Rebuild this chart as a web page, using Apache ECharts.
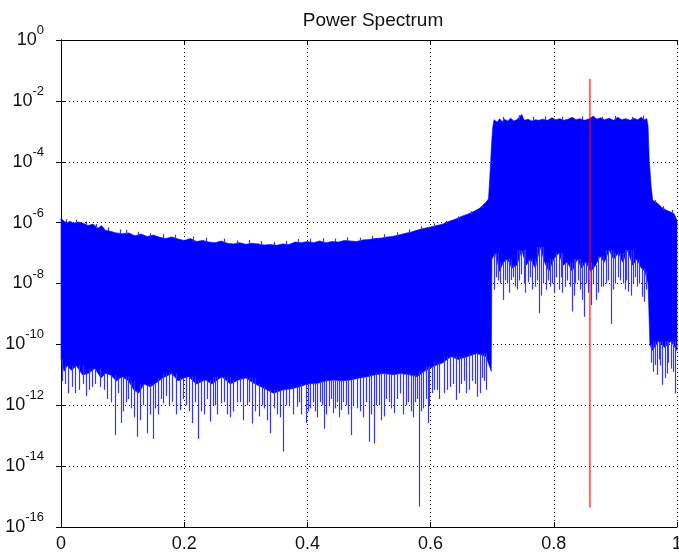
<!DOCTYPE html>
<html><head><meta charset="utf-8">
<script src="https://cdn.jsdelivr.net/npm/echarts@6/dist/echarts.min.js"></script>
<style>html,body{margin:0;padding:0;background:#fff}#c{width:679px;height:552px}</style>
</head><body><div id="c"></div>
<script>
// ---- data ----
const chartTitle = 'Power Spectrum';
const xTickLabels = ['0', '0.2', '0.4', '0.6', '0.8', '1'];

// upper envelope of the spectrum
const topX = [0.000,0.005,0.010,0.015,0.020,0.028,0.036,0.044,0.052,0.060,0.066,0.072,0.080,0.090,0.100,0.110,0.120,0.130,0.140,0.150,0.160,0.170,0.180,0.190,0.200,0.210,0.220,0.230,0.240,0.250,0.260,0.270,0.280,0.290,0.300,0.310,0.320,0.330,0.340,0.350,0.360,0.370,0.380,0.390,0.400,0.410,0.420,0.430,0.440,0.450,0.460,0.470,0.480,0.490,0.500,0.510,0.520,0.530,0.540,0.550,0.560,0.570,0.580,0.590,0.600,0.610,0.620,0.630,0.640,0.650,0.660,0.670,0.680,0.688,0.690,0.694,0.696,0.6976,0.699,0.701,0.703,0.708,0.712,0.716,0.720,0.725,0.730,0.735,0.740,0.748,0.752,0.758,0.764,0.770,0.776,0.782,0.790,0.797,0.803,0.810,0.816,0.823,0.830,0.836,0.842,0.850,0.858,0.864,0.870,0.876,0.882,0.890,0.897,0.904,0.910,0.917,0.924,0.930,0.936,0.942,0.947,0.951,0.953,0.955,0.958,0.9605,0.9686,0.975,0.982,0.988,0.995,1.000];
const topY = [1.4e-6,1.1e-6,1.0e-6,1.1e-6,9.5e-7,1.05e-6,9.5e-7,8.0e-7,9.0e-7,6.5e-7,8.0e-7,5.6e-7,5.2e-7,4.6e-7,4.3e-7,4.6e-7,3.7e-7,4.2e-7,3.5e-7,3.9e-7,3.3e-7,3.0e-7,3.4e-7,2.9e-7,2.6e-7,3.0e-7,2.4e-7,2.6e-7,2.3e-7,2.2e-7,2.5e-7,2.1e-7,2.0e-7,2.2e-7,1.95e-7,2.1e-7,2.0e-7,1.85e-7,1.9e-7,1.8e-7,2.0e-7,1.9e-7,2.3e-7,2.2e-7,2.4e-7,2.2e-7,2.5e-7,2.2e-7,2.4e-7,2.3e-7,2.6e-7,2.5e-7,2.4e-7,2.7e-7,2.8e-7,3.0e-7,3.1e-7,3.4e-7,3.6e-7,4.0e-7,4.5e-7,5.0e-7,5.8e-7,6.5e-7,7.2e-7,8.0e-7,9.0e-7,1.1e-6,1.3e-6,1.6e-6,1.9e-6,2.3e-6,3.0e-6,4.3e-6,4.8e-6,6.0e-6,3.0e-5,1.1e-4,4.0e-4,1.4e-3,2.4e-3,2.0e-3,2.6e-3,2.1e-3,2.5e-3,2.2e-3,2.7e-3,2.2e-3,2.4e-3,3.6e-3,2.3e-3,2.5e-3,2.2e-3,2.4e-3,2.3e-3,2.5e-3,2.3e-3,2.8e-3,2.4e-3,2.6e-3,2.3e-3,2.5e-3,2.9e-3,2.4e-3,2.6e-3,2.3e-3,2.6e-3,3.2e-3,2.5e-3,2.8e-3,2.4e-3,2.7e-3,2.3e-3,2.9e-3,2.4e-3,2.6e-3,2.3e-3,2.7e-3,2.4e-3,2.9e-3,2.4e-3,2.6e-3,1.5e-3,1.1e-4,1.6e-5,5.5e-6,4.3e-6,3.2e-6,2.6e-6,2.3e-6,2.0e-6,1.2e-6];

// small upward teeth on the upper edge
const peakX = [0.008,0.024,0.040,0.057,0.077,0.095,0.105,0.125,0.145,0.165,0.185,0.215,0.235,0.265,0.285,0.305,0.325,0.345,0.365,0.385,0.405,0.425,0.445,0.465,0.485,0.505,0.525,0.545,0.565,0.585,0.605,0.625,0.645,0.665,0.683,
  0.718,0.744,0.767,0.786,0.813,0.846,0.879,0.900,0.927,0.945,0.965,0.978,0.992];
const peakHigh = [1.3e-6,1.25e-6,1.1e-6,9.0e-7,7.0e-7,6.0e-7,5.8e-7,5.0e-7,4.5e-7,4.2e-7,4.0e-7,3.5e-7,3.2e-7,3.0e-7,2.6e-7,2.7e-7,2.5e-7,2.3e-7,2.5e-7,2.9e-7,3.0e-7,3.1e-7,3.0e-7,3.3e-7,3.2e-7,3.7e-7,4.2e-7,4.8e-7,6.0e-7,7.5e-7,9.5e-7,1.15e-6,1.6e-6,2.4e-6,3.8e-6,
  3.0e-3,3.4e-3,3.0e-3,3.1e-3,3.0e-3,3.1e-3,3.0e-3,3.2e-3,3.0e-3,3.3e-3,5.5e-6,3.5e-6,2.6e-6];

// lower edge of the solid part of the spectrum
const bottomX = [0.000,0.005,0.010,0.017,0.025,0.035,0.044,0.055,0.065,0.072,0.080,0.090,0.099,0.110,0.118,0.126,0.135,0.145,0.153,0.165,0.180,0.190,0.200,0.207,0.220,0.234,0.245,0.261,0.275,0.288,0.300,0.315,0.325,0.334,0.345,0.361,0.375,0.389,0.400,0.416,0.430,0.443,0.455,0.470,0.485,0.497,0.510,0.524,0.540,0.551,0.565,0.578,0.590,0.605,0.620,0.633,0.645,0.660,0.675,0.690,0.6985,0.6995,0.705,0.712,0.718,0.725,0.732,0.740,0.748,0.755,0.762,0.770,0.778,0.785,0.792,0.800,0.808,0.815,0.822,0.830,0.838,0.845,0.852,0.860,0.868,0.875,0.882,0.890,0.897,0.905,0.912,0.920,0.928,0.935,0.942,0.948,0.953,0.956,0.960,0.970,0.980,0.990,1.000];
const bottomY = [3.2e-11,1.3e-11,2.0e-11,1.4e-11,2.0e-11,1.0e-11,1.1e-11,1.6e-11,7.9e-12,1.1e-11,1.0e-11,6.3e-12,8.7e-12,6.3e-12,3.2e-12,2.5e-12,5.0e-12,4.0e-12,5.2e-12,7.9e-12,1.1e-11,6.3e-12,7.9e-12,8.7e-12,5.0e-12,6.8e-12,5.0e-12,8.7e-12,5.0e-12,6.8e-12,7.9e-12,5.0e-12,4.0e-12,3.2e-12,2.5e-12,3.2e-12,3.5e-12,4.1e-12,5.0e-12,5.2e-12,6.3e-12,6.8e-12,6.3e-12,6.8e-12,7.9e-12,8.7e-12,1.0e-11,1.1e-11,1.0e-11,1.1e-11,1.0e-11,8.7e-12,1.3e-11,1.9e-11,2.5e-11,4.0e-11,3.2e-11,4.0e-11,5.0e-11,4.0e-11,1.3e-11,6.3e-8,1.0e-7,2.5e-8,5.0e-8,6.3e-8,3.2e-8,4.0e-8,1.26e-7,4.0e-8,6.3e-8,3.2e-8,1.6e-7,5.0e-8,2.5e-8,6.3e-8,1.0e-7,4.0e-8,5.0e-8,2.5e-8,6.3e-8,3.2e-8,5.0e-8,2.5e-8,4.0e-8,7.9e-8,5.0e-8,1.26e-7,6.3e-8,1.0e-7,5.0e-8,1.26e-7,4.0e-8,6.3e-8,3.2e-8,2.5e-8,1.0e-8,1.0e-10,6.3e-11,1.26e-10,7.9e-11,1.26e-10,6.3e-11];

// downward spikes below the solid part
const spikeX = [0.002,0.012,0.023,0.030,0.041,0.050,0.063,0.075,0.088,0.097,0.105,0.114,0.123,0.128,0.139,0.149,0.158,0.166,0.175,0.193,0.203,0.212,0.223,0.232,0.242,0.250,0.259,0.270,0.280,0.290,0.302,0.310,0.321,0.330,0.340,0.350,0.360,0.370,0.383,0.390,0.397,0.405,0.413,0.420,0.427,0.435,0.442,0.448,0.454,0.462,0.470,0.480,0.490,0.500,0.508,0.516,0.524,0.532,0.540,0.546,0.551,0.560,0.568,0.575,0.581,0.588,0.595,0.602,0.610,0.622,0.632,0.641,0.650,0.657,0.668,0.676,0.684,0.690,
  0.007,0.018,0.035,0.046,0.056,0.069,0.081,0.093,0.101,0.109,0.118,0.133,0.144,0.153,0.162,0.171,0.180,0.187,0.198,0.207,0.217,0.227,0.237,0.246,0.254,0.264,0.275,0.285,0.296,0.306,0.315,0.326,0.335,0.345,0.355,0.365,0.376,0.386,0.401,0.409,0.416,0.424,0.431,0.438,0.445,0.451,0.458,0.466,0.474,0.485,0.495,0.504,0.512,0.520,0.528,0.536,0.556,0.564,0.572,0.578,0.585,0.592,0.598,0.606,0.614,0.627,0.636,0.646,0.654,0.663,0.672,0.680,0.687,
  0.703,0.709,0.717,0.724,0.730,0.737,0.744,0.751,0.758,0.765,0.776,0.782,0.787,0.794,0.800,0.811,0.818,0.829,0.835,0.846,0.849,0.860,0.868,0.876,0.884,0.893,0.900,0.908,0.915,0.921,0.928,0.935,0.943,0.950,
  0.706,0.713,0.720,0.727,0.734,0.741,0.747,0.754,0.761,0.769,0.773,0.779,0.790,0.797,0.804,0.808,0.814,0.822,0.826,0.832,0.839,0.843,0.853,0.856,0.864,0.872,0.880,0.888,0.896,0.904,0.912,0.918,0.925,0.932,0.939,0.946,
  0.964,0.970,0.976,0.983,0.990,0.997,0.958,0.961,0.967,0.973,0.980,0.986,0.993];
const spikeLow = [6.3e-12,2.5e-12,2.5e-12,3.2e-12,2.0e-12,4.0e-12,4.0e-12,1.6e-12,1.05e-13,2.6e-13,1.26e-12,7.9e-13,9.3e-14,3.2e-13,1.2e-13,7.8e-14,5.0e-13,1.15e-12,1.0e-12,6.9e-13,1.0e-12,2.6e-13,7.8e-14,5.0e-13,2.9e-13,1.0e-12,1.15e-12,5.0e-13,6.2e-13,1.26e-12,1.0e-12,2.5e-13,4.3e-13,7.9e-13,1.2e-13,5.0e-13,3.0e-14,1.0e-12,8.9e-13,5.0e-13,2.6e-13,7.9e-13,6.3e-13,1.26e-12,1.7e-13,1.0e-12,5.5e-13,1.26e-12,6.9e-13,1.0e-12,1.05e-13,7.9e-13,4.0e-13,6.3e-14,5.6e-14,1.0e-12,4.3e-13,1.26e-12,5.5e-13,1.6e-12,2.45e-12,1.0e-12,6.3e-13,1.26e-12,4.7e-16,7.9e-13,2.6e-13,2.5e-12,3.2e-12,2.5e-12,4.0e-12,1.5e-12,5.0e-12,2.5e-12,6.3e-12,1.9e-12,7.9e-12,3.2e-12,
  5.0e-12,4.0e-12,5.0e-12,3.2e-12,5.0e-12,3.2e-12,1.26e-12,2.5e-12,6.3e-13,1.6e-12,4.0e-13,1.0e-12,5.0e-13,7.9e-13,1.6e-12,2.0e-12,1.26e-12,5.0e-13,1.6e-12,6.3e-13,1.26e-12,6.3e-13,1.6e-12,1.0e-12,5.0e-13,1.26e-12,4.0e-13,1.26e-12,3.2e-13,1.26e-12,6.3e-13,1.0e-12,3.2e-13,7.9e-13,4.0e-13,1.0e-12,5.0e-13,1.26e-12,6.3e-13,1.26e-12,4.0e-13,1.0e-12,5.0e-13,1.6e-12,7.9e-13,4.0e-13,1.26e-12,5.0e-13,1.0e-12,6.3e-13,1.26e-12,5.0e-13,1.0e-12,3.2e-13,1.6e-12,7.9e-13,5.0e-13,1.26e-12,4.0e-13,1.6e-12,6.3e-13,1.6e-12,1.0e-12,3.2e-12,1.6e-12,3.2e-12,5.0e-12,2.5e-12,6.3e-12,3.2e-12,5.0e-12,2.5e-12,6.3e-12,
  6.2e-9,1.26e-8,2.9e-9,1.0e-8,1.3e-8,7.9e-9,1.26e-8,1.0e-8,1.1e-8,6.3e-9,1.05e-9,1.0e-8,6.2e-9,7.9e-9,4.8e-9,1.6e-8,7.9e-9,1.2e-9,1.0e-8,2.9e-9,8.1e-10,1.95e-9,2.9e-9,7.9e-9,1.0e-8,4.7e-10,1.0e-8,1.26e-8,6.3e-9,5.4e-9,1.0e-8,7.9e-9,3.7e-9,6.3e-9,
  1.6e-8,1.0e-8,1.26e-8,5.0e-9,1.6e-8,6.3e-9,2.0e-8,5.0e-9,1.6e-8,7.9e-9,1.26e-8,4.0e-9,1.26e-8,1.0e-8,1.6e-8,6.3e-9,5.0e-9,1.26e-8,7.9e-9,4.0e-9,1.26e-8,6.3e-9,1.0e-8,5.0e-9,1.0e-8,5.0e-9,7.9e-9,1.26e-8,6.3e-9,1.6e-8,1.0e-8,1.26e-8,4.0e-9,1.6e-8,1.0e-8,2.5e-9,
  2.1e-11,3.2e-11,4.7e-12,1.1e-11,1.6e-11,2.45e-12,2.5e-11,1.26e-11,1.0e-11,2.0e-11,7.9e-12,2.5e-11,1.26e-11];

// red marker line
const markerX = 0.8585;
const markerY = [5.2e-2, 4.4e-16];

// ---- chart ----
const FONT = 'Liberation Sans, Arial, Helvetica, sans-serif';
const chart = echarts.init(document.getElementById('c'), null, {renderer: 'canvas'});

function edgeStart(xs, ys, x, pick) {
  for (let j = 0; j < xs.length - 1; j++) {
    if (x >= xs[j] && x <= xs[j + 1]) return pick(ys[j], ys[j + 1]);
  }
  return ys[ys.length - 1];
}
const spikeData = spikeX.map((x, i) => [x, edgeStart(bottomX, bottomY, x, Math.max), spikeLow[i]]);
const peakData = peakX.map((x, i) => [x, edgeStart(topX, topY, x, Math.min), peakHigh[i]]);

const axisCommonX = {
  type: 'value', min: 0, max: 1, interval: 0.2,
  axisLine: {show: true, lineStyle: {color: '#000', width: 1}},
  axisTick: {show: true, inside: true, length: 5, lineStyle: {color: '#000'}},
};
const axisCommonY = {
  type: 'log', logBase: 10, min: 1e-16, max: 1, interval: 2,
  axisLine: {show: true, lineStyle: {color: '#000', width: 1}},
  axisTick: {show: true, inside: true, length: 5, lineStyle: {color: '#000'}},
};

function segmentItem(params, api) {
  const a = api.coord([api.value(0), api.value(1)]);
  const b = api.coord([api.value(0), api.value(2)]);
  const x = Math.round(a[0]) + 0.5;
  return {type: 'line', shape: {x1: x, y1: a[1], x2: x, y2: b[1]}, style: {stroke: '#3535ff', lineWidth: 1.2}};
}

chart.setOption({
  animation: false,
  backgroundColor: '#fff',
  title: {
    text: chartTitle, left: 368, top: 6, textAlign: 'center',
    textStyle: {fontFamily: FONT, fontSize: 19, fontWeight: 'normal', color: '#111'}
  },
  grid: {left: 61, right: 2, top: 40, bottom: 25, containLabel: false, outerBoundsMode: 'none'},
  xAxis: [
    Object.assign({}, axisCommonX, {
      position: 'bottom',
      axisLabel: {
        margin: 8, fontFamily: FONT, fontSize: 18, color: '#111',
        formatter: (v) => xTickLabels[Math.round(v / 0.2)]
      },
      splitLine: {show: true, lineStyle: {color: '#000', type: [1, 3], width: 1}}
    }),
    Object.assign({}, axisCommonX, {
      position: 'top', axisLabel: {show: false}, splitLine: {show: false}
    })
  ],
  yAxis: [
    Object.assign({}, axisCommonY, {
      position: 'left',
      axisLabel: {
        margin: 17, fontFamily: FONT, color: '#111',
        formatter: (v) => '{b|10}{e|' + Math.round(Math.log10(v)) + '}',
        rich: {
          b: {fontFamily: FONT, fontSize: 18, lineHeight: 32, color: '#111'},
          e: {fontFamily: FONT, fontSize: 13, lineHeight: 13, verticalAlign: 'top', color: '#111'}
        }
      },
      splitLine: {show: true, lineStyle: {color: '#000', type: [1, 3], width: 1}}
    }),
    Object.assign({}, axisCommonY, {
      position: 'right', axisLabel: {show: false}, splitLine: {show: false}
    })
  ],
  series: [
    {
      type: 'custom', name: 'band', xAxisIndex: 0, yAxisIndex: 0,
      data: [[topX[0], topY[0]]],
      renderItem: function (params, api) {
        const pts = [];
        for (let i = 0; i < topX.length; i++) pts.push(api.coord([topX[i], topY[i]]));
        for (let i = bottomX.length - 1; i >= 0; i--) pts.push(api.coord([bottomX[i], bottomY[i]]));
        return {type: 'polygon', shape: {points: pts}, style: {fill: '#0000ff', stroke: '#0000ff', lineWidth: 0.6}};
      },
      z: 2
    },
    {
      type: 'custom', name: 'spikes', xAxisIndex: 0, yAxisIndex: 0,
      data: spikeData, encode: {x: 0, y: [1, 2]},
      renderItem: segmentItem, z: 3
    },
    {
      type: 'custom', name: 'peaks', xAxisIndex: 0, yAxisIndex: 0,
      data: peakData, encode: {x: 0, y: [1, 2]},
      renderItem: segmentItem, z: 3
    },
    {
      type: 'line', name: 'marker', xAxisIndex: 0, yAxisIndex: 0,
      data: [[markerX, markerY[0]], [markerX, markerY[1]]],
      showSymbol: false, symbol: 'none',
      lineStyle: {color: 'rgba(255,0,0,0.6)', width: 2},
      z: 5
    }
  ]
});
</script>
</body></html>
